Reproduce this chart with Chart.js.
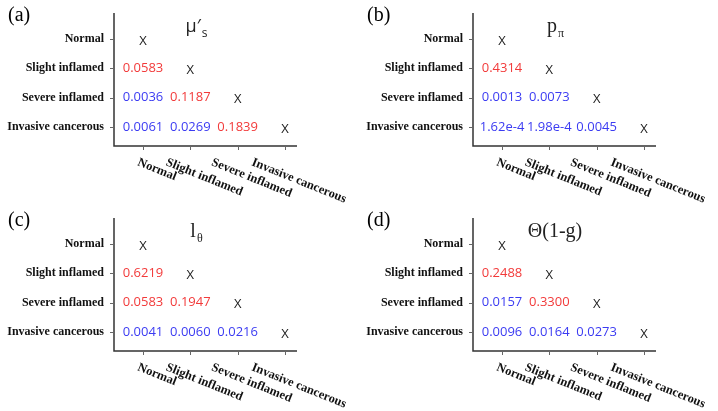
<!DOCTYPE html>
<html lang="en">
<head>
<meta charset="UTF-8">
<title>p-value matrices</title>
<style>
  body{ margin:0; background:#fff; }
  .grid{
    display:grid;
    grid-template-columns:359px 359px;
    grid-template-rows:205px 206px;
    width:718px;
  }
  canvas{ display:block; }
</style>
</head>
<body>
<div class="grid">
  <canvas id="c0" width="359" height="205"></canvas>
  <canvas id="c1" width="359" height="205"></canvas>
  <canvas id="c2" width="359" height="206"></canvas>
  <canvas id="c3" width="359" height="206"></canvas>
</div>

<script src="https://cdn.jsdelivr.net/npm/chart.js"></script>
<script>
const groups = ['Normal', 'Slight inflamed', 'Severe inflamed', 'Invasive cancerous'];
const letters = ['(a)', '(b)', '(c)', '(d)'];

// lower triangle, row by row:
// Slight-Normal | Severe-Normal, Severe-Slight | Invasive-Normal, Invasive-Slight, Invasive-Severe
const muS    = [0.0583, 0.0036, 0.1187, 0.0061, 0.0269, 0.1839];
const pPi    = [0.4314, 0.0013, 0.0073, 0.000162, 0.000198, 0.0045];
const lTheta = [0.6219, 0.0583, 0.1947, 0.0041, 0.0060, 0.0216];
const thetaG = [0.2488, 0.0157, 0.3300, 0.0096, 0.0164, 0.0273];

const panelValues = [muS, pPi, lTheta, thetaG];
// title: main text, subscript, font family
const titles = [
  ['μ′', 's', '"Open Sans"'],
  ['p', 'π', '"Liberation Serif"'],
  ['l', 'θ', '"Liberation Serif"'],
  ['Θ(1-g)', '', '"Liberation Serif"']
];

const RED = '#f23a3a';
const BLUE = '#3b3bf2';
const fmt = v => v < 0.001 ? v.toExponential(2) : v.toFixed(4);

function buildData(vals) {
  const pairs = [], same = [];
  let k = 0;
  for (let r = 0; r < groups.length; r++) {
    for (let c = 0; c < r; c++) {
      pairs.push({x: c, y: r, p: vals[k++]});
    }
    same.push({x: r, y: r});
  }
  return {datasets: [
    {label: 'p', data: pairs, pointRadius: 0},
    {label: 'same', data: same, pointRadius: 0}
  ]};
}

// axis lines + small tick marks, taken from the scales
const axes = {
  id: 'axes',
  beforeDatasetsDraw(chart) {
    const ctx = chart.ctx;
    const xs = chart.scales.x, ys = chart.scales.y;
    const {left, right, top, bottom} = chart.chartArea;
    ctx.save();
    ctx.strokeStyle = '#333';
    ctx.lineWidth = 1.5;
    ctx.beginPath();
    ctx.moveTo(left, top);
    ctx.lineTo(left, bottom);
    ctx.lineTo(right, bottom);
    ctx.stroke();
    ctx.strokeStyle = '#666';
    ctx.lineWidth = 1;
    ctx.beginPath();
    groups.forEach((g, i) => {
      const py = Math.round(ys.getPixelForValue(i)) + 0.5;
      ctx.moveTo(left - 4, py);
      ctx.lineTo(left, py);
      const px = Math.round(xs.getPixelForValue(i)) + 0.5;
      ctx.moveTo(px, bottom);
      ctx.lineTo(px, bottom + 4);
    });
    ctx.stroke();
    ctx.restore();
  }
};

const cellText = {
  id: 'cellText',
  afterDatasetsDraw(chart) {
    const ctx = chart.ctx;
    ctx.save();
    ctx.textAlign = 'center';
    ctx.textBaseline = 'middle';
    ctx.font = '13px "Open Sans"';
    chart.data.datasets.forEach((ds, di) => {
      chart.getDatasetMeta(di).data.forEach((pt, i) => {
        const d = ds.data[i];
        if (d.p === undefined) {
          ctx.fillStyle = '#222';
          ctx.fillText('X', pt.x, pt.y + 2);
        } else {
          ctx.fillStyle = d.p < 0.05 ? BLUE : RED;
          ctx.fillText(fmt(d.p), pt.x, pt.y);
        }
      });
    });
    ctx.restore();
  }
};

const decorations = {
  id: 'decorations',
  afterDraw(chart, args, opts) {
    const ctx = chart.ctx;
    const xs = chart.scales.x;
    const ang = 22 * Math.PI / 180;
    ctx.save();
    // rotated category labels under the x axis
    ctx.font = 'bold 12.5px "Liberation Serif"';
    ctx.fillStyle = '#111';
    ctx.textAlign = 'left';
    ctx.textBaseline = 'middle';
    groups.forEach((g, i) => {
      const w = ctx.measureText(g).width;
      const cx = xs.getPixelForValue(i) + 14;
      ctx.save();
      ctx.translate(cx - w / 2 * Math.cos(ang), chart.chartArea.bottom + 16);
      ctx.rotate(ang);
      ctx.fillText(g, 0, 0);
      ctx.restore();
    });
    // panel letter
    ctx.font = '20px "Liberation Serif"';
    ctx.fillStyle = '#000';
    ctx.fillText(opts.letter, 8, 16);
    // title with subscript
    const [main, sub, fam] = opts.title;
    const big = fam.includes('Serif') ? 20 : 18;
    ctx.font = big + 'px ' + fam;
    const w1 = ctx.measureText(main).width;
    ctx.font = '12px ' + fam;
    const w2 = sub ? ctx.measureText(sub).width : 0;
    const x0 = 196 - (w1 + w2) / 2;
    ctx.fillStyle = '#222';
    ctx.textBaseline = 'alphabetic';
    ctx.font = big + 'px ' + fam;
    ctx.fillText(main, x0, 32);
    if (sub) {
      ctx.font = '12px ' + fam;
      ctx.fillText(sub, x0 + w1 + 1, 37);
    }
    ctx.restore();
  }
};

const indexTicks = scale => {
  scale.ticks = groups.map((g, i) => ({value: i}));
};

panelValues.forEach((vals, n) => {
  new Chart(document.getElementById('c' + n), {
    type: 'scatter',
    data: buildData(vals),
    plugins: [axes, cellText, decorations],
    options: {
      responsive: false,
      animation: false,
      devicePixelRatio: 1,
      layout: {padding: {top: 13, right: 62, left: 0, bottom: 0}},
      plugins: {
        legend: {display: false},
        tooltip: {enabled: false},
        decorations: {letter: letters[n], title: titles[n]}
      },
      scales: {
        x: {
          type: 'linear',
          min: -0.613,
          max: 3.254,
          afterBuildTicks: indexTicks,
          afterFit: s => { s.height = (n < 2 ? 205 : 206) - 146; },
          ticks: {display: false},
          grid: {display: false},
          border: {display: false}
        },
        y: {
          type: 'linear',
          reverse: true,
          min: -0.886,
          max: 3.648,
          afterBuildTicks: indexTicks,
          afterFit: s => { s.width = 114; },
          ticks: {
            callback: v => groups[v],
            color: '#111',
            padding: 2,
            font: {family: '"Liberation Serif"', size: 12, weight: 'bold'}
          },
          grid: {display: false},
          border: {display: false}
        }
      }
    }
  });
});
</script>
</body>
</html>
